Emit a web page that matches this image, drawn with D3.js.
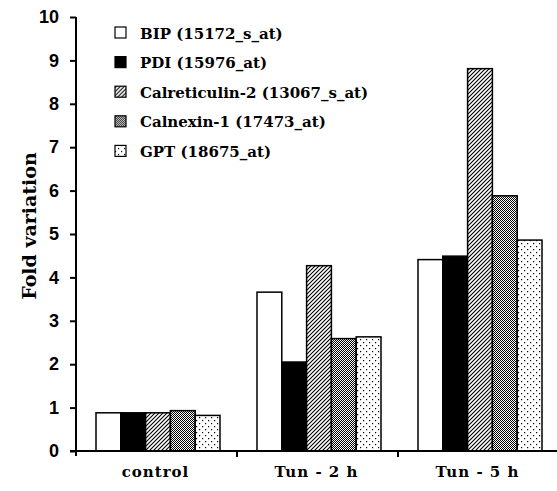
<!DOCTYPE html>
<html lang="en">
<head>
<meta charset="utf-8">
<script src="https://d3js.org/d3.v7.min.js"></script>
<style>
  body { margin: 0; background: #fff; }
  .tick text { font-family: "Liberation Sans Narrow", "Liberation Sans", Arial, sans-serif; font-weight: bold; font-size: 18px; }
  .serif { font-family: "DejaVu Serif", serif; font-weight: bold; }
</style>
</head>
<body>
<svg id="chart" width="557" height="491"></svg>
<script>
// data
var groups = ["control", "Tun - 2 h", "Tun - 5 h"]
var series = ["BIP (15172_s_at)", "PDI (15976_at)", "Calreticulin-2 (13067_s_at)", "Calnexin-1 (17473_at)", "GPT (18675_at)"]
var values = [
  [0.88, 0.88, 0.88, 0.93, 0.82],
  [3.66, 2.05, 4.27, 2.59, 2.63],
  [4.41, 4.49, 8.81, 5.88, 4.86]
]
var yTicks = [0, 1, 2, 3, 4, 5, 6, 7, 8, 9, 10]

var svg = d3.select("#chart")
var defs = svg.append("defs")

// patterns
var p = defs.append("pattern").attr("id", "hatch").attr("patternUnits", "userSpaceOnUse")
  .attr("width", 4).attr("height", 4)
p.append("rect").attr("width", 4).attr("height", 4).attr("fill", "#fff")
p.append("path").attr("d", "M-1,1 l2,-2 M0,4 l4,-4 M3,5 l2,-2").attr("stroke", "#000").attr("stroke-width", 1.1)

p = defs.append("pattern").attr("id", "checker").attr("patternUnits", "userSpaceOnUse")
  .attr("width", 2).attr("height", 2)
p.append("rect").attr("width", 2).attr("height", 2).attr("fill", "#fff")
p.append("rect").attr("width", 1).attr("height", 1).attr("fill", "#000")
p.append("rect").attr("x", 1).attr("y", 1).attr("width", 1).attr("height", 1).attr("fill", "#000")

p = defs.append("pattern").attr("id", "dots").attr("patternUnits", "userSpaceOnUse")
  .attr("width", 6).attr("height", 6)
p.append("rect").attr("width", 6).attr("height", 6).attr("fill", "#fff")
p.append("rect").attr("x", 0).attr("y", 0).attr("width", 1.2).attr("height", 1.2).attr("fill", "#000")
p.append("rect").attr("x", 3).attr("y", 3).attr("width", 1.2).attr("height", 1.2).attr("fill", "#000")

var fills = ["#fff", "#000", "url(#hatch)", "url(#checker)", "url(#dots)"]

var x0 = d3.scaleBand().domain(groups).range([76, 559]).paddingInner(0).paddingOuter(0)
var x1 = d3.scaleBand().domain(series).range([20, x0.bandwidth() - 17]).padding(0)
var y = d3.scaleLinear().domain([0, 10]).range([451, 17])

// bars
var g = svg.append("g")
g.selectAll("g.grp")
  .data(values)
  .join("g")
    .attr("class", "grp")
    .attr("transform", (d, i) => "translate(" + x0(groups[i]) + ",0)")
  .selectAll("rect")
  .data(d => d)
  .join("rect")
    .attr("x", (d, i) => x1(series[i]))
    .attr("y", d => y(d))
    .attr("width", x1.bandwidth())
    .attr("height", d => y(0) - y(d))
    .attr("fill", (d, i) => fills[i])
    .attr("stroke", "#000")
    .attr("stroke-width", 1.5)

// y axis
var yAxis = svg.append("g")
  .attr("transform", "translate(76,0)")
  .call(d3.axisLeft(y).tickValues(yTicks).tickSize(6).tickPadding(11))
yAxis.select(".domain").attr("d", "M0,17V456").attr("stroke-width", 2)
yAxis.selectAll(".tick line").attr("stroke-width", 2)

// x axis
var xAxis = svg.append("g")
  .attr("transform", "translate(0,451)")
xAxis.append("line").attr("x1", 70).attr("x2", 557).attr("stroke", "#000").attr("stroke-width", 2)
xAxis.selectAll("line.sep")
  .data(groups.slice(1))
  .join("line")
    .attr("class", "sep")
    .attr("x1", d => x0(d)).attr("x2", d => x0(d))
    .attr("y1", 0).attr("y2", 6)
    .attr("stroke", "#000").attr("stroke-width", 2)
xAxis.selectAll("text")
  .data(groups)
  .join("text")
    .attr("class", "serif")
    .attr("x", d => x0(d) + x0.bandwidth() / 2 - 1)
    .attr("y", 26)
    .attr("text-anchor", "middle")
    .style("font-size", "15px")
    .style("letter-spacing", "1px")
    .text(d => d)

// y title
svg.append("text")
  .attr("class", "serif")
  .attr("transform", "translate(36,226) rotate(-90)")
  .attr("text-anchor", "middle")
  .style("font-size", "19px")
  .text("Fold variation")

// legend
var leg = svg.append("g").selectAll("g")
  .data(series)
  .join("g")
    .attr("transform", (d, i) => "translate(115," + (32.5 + i * 29.6) + ")")
leg.append("rect")
  .attr("x", 0).attr("y", -5.5).attr("width", 11).attr("height", 11)
  .attr("fill", (d, i) => fills[i])
  .attr("stroke", "#000").attr("stroke-width", 1.2)
leg.append("text")
  .attr("class", "serif")
  .attr("x", 25).attr("y", 6)
  .style("font-size", "15px")
  .text(d => d)
</script>
</body>
</html>
